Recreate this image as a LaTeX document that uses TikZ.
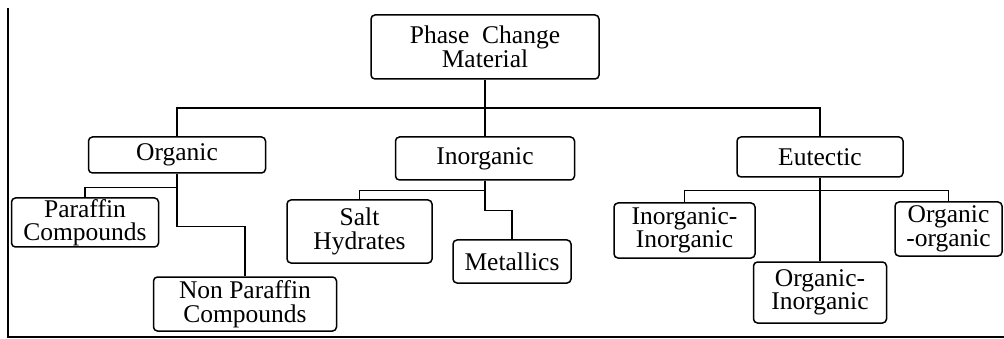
\documentclass[tikz,border=0pt]{standalone}
\usepackage{fontspec}
\setmainfont{Liberation Serif}
\begin{document}
\begin{tikzpicture}[x=1pt,y=-1pt,
  box/.style={draw, rounded corners=4pt, line width=1.5pt, align=center, inner sep=0pt,
    font=\fontsize{25.5}{23.5}\selectfont},
  link/.style={line width=1.5pt},
]
\useasboundingbox (0,0) rectangle (1004,339);
% frame
\coordinate (axTop) at (8,8);
\coordinate (axCorner) at (8,337);
\coordinate (axRight) at (1004,337);
\draw[link] (axTop) -- (axCorner) -- (axRight);
% nodes
\node[box, minimum width=228pt, minimum height=64pt] (root) at (485,47) {Phase\hspace{0.5em}Change\\Material};
\node[box, minimum width=177pt, minimum height=36pt] (org) at (177,155) {Organic};
\node[box, minimum width=179pt, minimum height=43pt] (inorg) at (485,158.5) {Inorganic};
\node[box, minimum width=166pt, minimum height=40pt] (eut) at (820,157) {Eutectic};
\node[box, minimum width=147pt, minimum height=49pt] (paraffin) at (85,222.5) {Paraffin\\Compounds};
\node[box, minimum width=183pt, minimum height=54pt] (nonpar) at (245,304) {Non Paraffin\\Compounds};
\node[box, minimum width=145pt, minimum height=63pt] (salt) at (359.5,231.5) {Salt\\Hydrates};
\node[box, minimum width=118pt, minimum height=43pt] (metal) at (512,261.5) {Metallics};
\node[box, minimum width=141pt, minimum height=55pt] (inin) at (684.5,230.5) {Inorganic-\\Inorganic};
\node[box, minimum width=133pt, minimum height=61pt] (orgin) at (820,292.5) {Organic-\\Inorganic};
\node[box, minimum width=107pt, minimum height=54pt] (orgorg) at (948.5,229) {Organic\\-organic};
% connectors
\coordinate (bus) at (485,108);
\draw[link] (org.north) |- (bus) -| (eut.north);
\draw[link] (root.south) -- (inorg.north);
\draw[link] (org.south) -- ++(0,14) -| (paraffin.north);
\draw[link] (org.south) -- ++(0,53) -| (nonpar.north);
\draw[link] (inorg.south) -- ++(0,10) -| (salt.north);
\draw[link] (inorg.south) -- ++(0,30) -| (metal.north);
\draw[link] (eut.south) -- ++(0,13) -| (inin.north);
\draw[link] (eut.south) -- ++(0,13) -| (orgorg.north);
\draw[link] (eut.south) -- (orgin.north);
\end{tikzpicture}
\end{document}
